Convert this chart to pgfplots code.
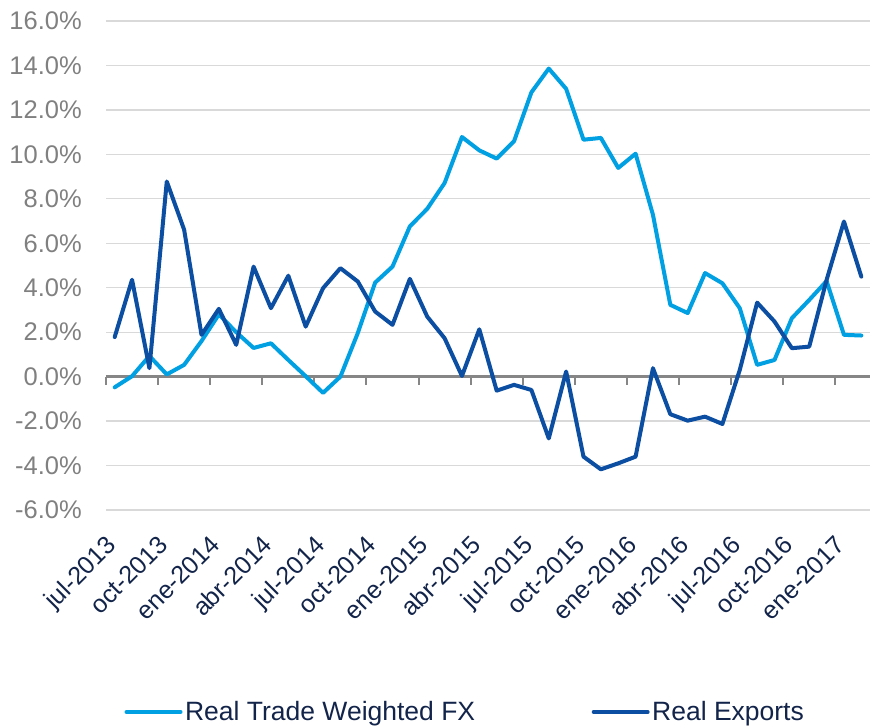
\documentclass[border=0pt]{standalone}
\usepackage{pgfplots}
\pgfplotsset{compat=1.18}
\usepackage{fontspec}
\setmainfont{Liberation Sans}
\definecolor{lblue}{HTML}{00A0E3}
\definecolor{dblue}{HTML}{0B4EA2}
\definecolor{navy}{HTML}{13244A}
\definecolor{labgray}{HTML}{808080}
\definecolor{gridgray}{HTML}{D9D9D9}
\definecolor{axgray}{HTML}{868686}
\begin{document}
\begin{tikzpicture}
\useasboundingbox (-106pt,-216pt) rectangle (764pt,510pt);
\begin{axis}[
  at={(0pt,0pt)}, anchor=south west,
  scale only axis, width=764pt, height=489pt,
  xmin=-0.5, xmax=43.5, ymin=-6, ymax=16,
  ytick={-6,-4,...,16},
  ymajorgrids, grid style={line width=1.2pt, color=gridgray},
  axis line style={draw=none},
  major tick length=0pt,
  xtick={0,3,...,42},
  xticklabels={jul-2013,oct-2013,ene-2014,abr-2014,jul-2014,oct-2014,ene-2015,abr-2015,jul-2015,oct-2015,ene-2016,abr-2016,jul-2016,oct-2016,ene-2017},
  xticklabel style={xshift=-10pt, yshift=-24pt, rotate=45, anchor=north east, inner sep=0pt, font=\fontsize{25}{30}\selectfont, text=navy},
  yticklabel={\pgfmathprintnumber[fixed,fixed zerofill,precision=1,assume math mode=true]{\tick}\%},
  yticklabel style={anchor=east, inner sep=0pt, font=\fontsize{25.5}{30}\selectfont, text=labgray, xshift=-24pt},
  legend columns=2,
  legend style={at={(0.4705,-0.413)}, anchor=center, draw=none, fill=none, font=\fontsize{26.5}{30}\selectfont, text=navy, /tikz/every even column/.append style={column sep=114pt}, nodes={inner sep=2.5pt}},
  legend image code/.code={\draw[#1] (0pt,0pt) -- (54pt,0pt);},
  clip=false,
]
\draw[axgray, line width=2.5pt] (axis cs:-0.5,0) -- (axis cs:43.5,0);
\pgfplotsinvokeforeach{-0.5,2.5,5.5,8.5,11.5,14.5,17.5,20.5,23.5,26.5,29.5,32.5,35.5,38.5,41.5}{
  \draw[axgray, line width=2pt] (axis cs:#1,0) -- ++(0pt,-8pt);
}
\addplot[lblue, line width=4pt, line join=round, line cap=round] coordinates {
(0,-0.48) (1,0.02) (2,0.93) (3,0.10) (4,0.53) (5,1.60) (6,2.80) (7,2.00) (8,1.29) (9,1.50)
(10,0.75) (11,0.02) (12,-0.73) (13,0.00) (14,1.96) (15,4.23) (16,4.95) (17,6.76) (18,7.55) (19,8.71)
(20,10.78) (21,10.18) (22,9.81) (23,10.59) (24,12.79) (25,13.86) (26,12.95) (27,10.66) (28,10.74) (29,9.39)
(30,10.03) (31,7.28) (32,3.23) (33,2.86) (34,4.66) (35,4.20) (36,3.08) (37,0.53) (38,0.75) (39,2.63)
(40,3.45) (41,4.30) (42,1.88) (43,1.85)
};
\addlegendentry{Real Trade Weighted FX}
\addplot[dblue, line width=4pt, line join=round, line cap=round] coordinates {
(0,1.78) (1,4.36) (2,0.38) (3,8.78) (4,6.61) (5,1.88) (6,3.05) (7,1.43) (8,4.95) (9,3.08)
(10,4.54) (11,2.25) (12,3.98) (13,4.88) (14,4.28) (15,2.93) (16,2.33) (17,4.40) (18,2.70) (19,1.73)
(20,0.03) (21,2.13) (22,-0.63) (23,-0.37) (24,-0.60) (25,-2.78) (26,0.23) (27,-3.60) (28,-4.17) (29,-3.90)
(30,-3.60) (31,0.38) (32,-1.69) (33,-1.98) (34,-1.80) (35,-2.13) (36,0.30) (37,3.33) (38,2.48) (39,1.28)
(40,1.35) (41,4.35) (42,6.98) (43,4.50)
};
\addlegendentry{Real Exports}
\end{axis}
\end{tikzpicture}
\end{document}
